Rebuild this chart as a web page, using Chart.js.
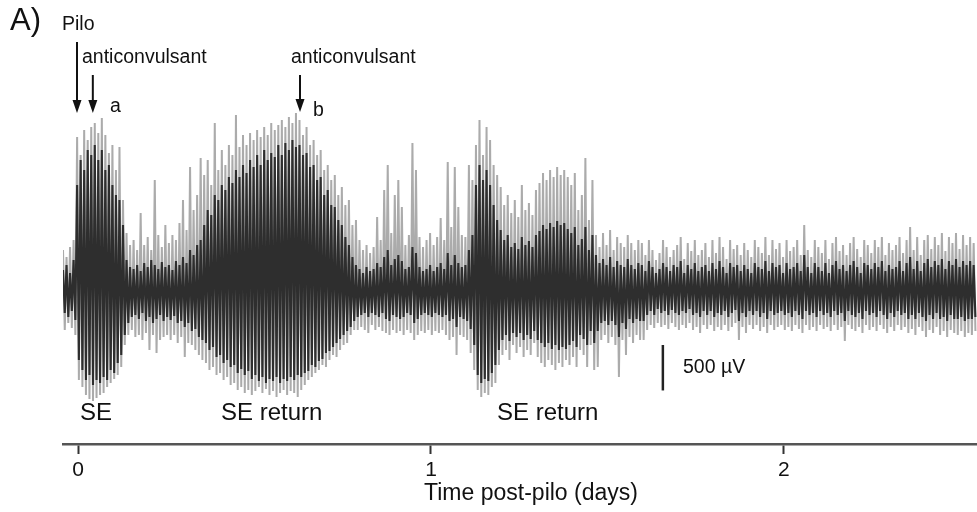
<!DOCTYPE html>
<html>
<head>
<meta charset="utf-8">
<script src="https://cdn.jsdelivr.net/npm/chart.js@4.4.1/dist/chart.umd.min.js"></script>
<style>
  html, body { margin: 0; padding: 0; background: #fff; }
  #wrap { width: 977px; height: 512px; }
</style>
</head>
<body>
<div id="wrap"><canvas id="eeg"></canvas></div>
<script>
// time base, days post-pilo (one bin every 0.01 day)
const tStart = -0.04
const tStep = 0.01

// outer (light grey) envelope of the trace, µV
const spikeTop = [
  495, 418, 528, 605,
  1738, 1540, 1815, 1705, 1848, 1892, 1782, 1947, 1760, 1562, 1650, 1375, 1628, 1045, 682, 550,
  605, 495, 902, 550, 638, 495, 1265, 660, 528, 770, 572, 660, 605, 792, 1045, 715, 1408, 935, 1100, 1507,
  1320, 1485, 1210, 1892, 1375, 1595, 1430, 1650, 1540, 1980, 1628, 1760, 1650, 1782, 1705, 1815, 1738, 1848, 1760, 1892,
  1815, 1870, 1925, 1848, 1958, 1892, 2002, 1925, 1760, 1848, 1650, 1705, 1540, 1595, 1375, 1430, 1265, 1320, 1100, 1188,
  990, 1045, 770,
  825, 605, 495, 550, 462, 528, 858, 605, 1155, 1430, 682, 1100, 1265, 968, 550, 660, 1672, 1375, 638, 528,
  605, 682, 550, 638, 847, 605, 1463, 748, 1408, 968, 660, 638, 1430,
  1265, 1650, 1925, 1540, 1848, 1705, 1430, 1320, 1188, 990, 1100, 902, 1045, 858, 1210, 935, 1012, 880, 1155, 1232,
  1342, 1265, 1375, 1298, 1408, 1320, 1375, 1298, 1210, 1342, 935, 1100, 1507, 825, 1265,
  660, 528, 682, 550, 715, 495, 638, 572, 528, 660, 572, 495, 605,
  572, 440, 605, 495, 385, 462, 605, 528, 418, 495,
  550, 638, 396, 572, 484, 605, 440, 495, 572, 418,
  605, 462, 638, 528, 396, 605, 506, 550, 440, 572,
  495, 418, 605, 528, 462, 638, 440, 605, 506, 572,
  418, 605, 484, 528, 605, 440, 770, 495, 418, 605,
  528, 462, 605, 396, 572, 638, 484, 550, 440, 572,
  638, 506, 418, 605, 550, 462, 605, 528, 638, 440,
  572, 495, 550, 638, 462, 605, 748, 495, 638, 440,
  605, 660, 506, 638, 550, 682, 484, 638, 572, 682,
  506, 660, 550, 638, 572
]
const spikeBottom = [
  385, 308, 363, 440,
  935, 1012, 1100, 1144, 1166, 1133, 1100, 1078, 1012, 968, 924, 880, 792, 550, 440, 385,
  462, 440, 495, 418, 605, 440, 638, 495, 462, 440, 495, 440, 528, 462, 682, 528, 550, 605, 660, 715,
  748, 825, 792, 880, 858, 935, 902, 990, 968, 1045, 1012, 1078, 1045, 1100, 1056, 1012, 1078, 1034, 1100, 1056,
  1122, 1078, 1045, 1100, 1056, 1078, 1122, 1045, 990, 935, 902, 858, 825, 770, 792, 715, 660, 682, 605, 550,
  528, 440, 385,
  385, 352, 385, 418, 330, 385, 352, 396, 418, 440, 385, 418, 396, 440, 385, 418, 495, 440, 396, 418,
  385, 440, 396, 418, 385, 440, 495, 462, 660, 440, 462, 495, 638,
  825, 1045, 1122, 1078, 1100, 1012, 968, 770, 660, 605, 715, 550, 638, 572, 682, 605, 660, 528, 682, 748,
  792, 715, 770, 825, 748, 792, 715, 770, 682, 792, 605, 660, 792, 550, 825,
  792, 495, 440, 528, 462, 550, 902, 495, 660, 462, 528, 440, 495,
  495, 385, 330, 363, 308, 352, 330, 374, 308, 352,
  385, 330, 363, 308, 385, 352, 418, 330, 374, 330,
  396, 352, 385, 330, 396, 352, 308, 495, 352, 418,
  330, 374, 330, 396, 352, 418, 330, 385, 352, 330,
  385, 352, 396, 330, 374, 418, 330, 385, 352, 396,
  330, 374, 352, 396, 330, 385, 352, 506, 330, 374,
  396, 352, 418, 330, 385, 352, 396, 330, 374, 418,
  352, 396, 330, 385, 352, 418, 374, 440, 352, 396,
  462, 385, 418, 352, 440, 396, 462, 385, 418, 440,
  396, 462, 418, 440, 396
]

// dark core of the trace, µV
const coreTop = [
  275, 330, 242, 385,
  1210, 1485, 1375, 1595, 1540, 1650, 1485, 1595, 1375, 1430, 1210, 1100, 1045, 770, 385, 308,
  286, 330, 264, 352, 308, 385, 330, 286, 363, 308, 330, 275, 374, 330, 418, 352, 495, 440, 550, 605,
  770, 935, 880, 1100, 1045, 1210, 1155, 1298, 1232, 1375, 1298, 1430, 1342, 1485, 1408, 1540, 1430, 1595, 1485, 1562,
  1518, 1650, 1540, 1672, 1595, 1705, 1628, 1650, 1540, 1562, 1408, 1430, 1265, 1298, 1100, 1155, 990, 968, 825, 770,
  638, 550, 418,
  330, 286, 242, 308, 264, 286, 352, 308, 418, 495, 330, 396, 440, 374, 286, 308, 528, 462, 308, 264,
  286, 330, 264, 308, 352, 286, 462, 330, 440, 352, 308, 330, 495,
  660, 1210, 1430, 1265, 1375, 1210, 990, 825, 715, 605, 660, 528, 572, 506, 638, 550, 594, 528, 660, 704,
  770, 726, 792, 748, 814, 770, 792, 726, 682, 748, 550, 616, 748, 495, 660,
  440, 352, 396, 330, 418, 308, 374, 330, 308, 396, 330, 286, 352,
  330, 264, 374, 308, 242, 286, 352, 308, 264, 330,
  308, 374, 242, 330, 286, 352, 264, 308, 330, 264,
  352, 286, 374, 308, 242, 352, 308, 330, 264, 330,
  286, 242, 352, 308, 286, 374, 264, 352, 308, 330,
  242, 352, 286, 308, 352, 264, 440, 308, 242, 352,
  308, 264, 352, 242, 330, 374, 286, 330, 264, 330,
  374, 308, 242, 352, 330, 286, 352, 308, 374, 264,
  330, 286, 308, 374, 264, 352, 418, 286, 374, 264,
  352, 396, 308, 374, 330, 396, 286, 374, 330, 396,
  308, 374, 330, 374, 330
]
const coreBottom = [
  198, 242, 176, 275,
  715, 825, 935, 880, 990, 935, 968, 902, 935, 825, 858, 748, 660, 440, 308, 242,
  220, 264, 198, 286, 242, 308, 264, 220, 286, 242, 275, 231, 308, 286, 352, 308, 396, 374, 462, 495,
  528, 605, 572, 682, 660, 748, 715, 792, 770, 858, 814, 880, 836, 924, 880, 946, 902, 968, 924, 946,
  902, 968, 924, 946, 902, 935, 880, 902, 858, 836, 770, 792, 726, 704, 638, 616, 572, 528, 484, 440,
  396, 352, 286,
  242, 220, 198, 242, 198, 220, 242, 198, 264, 286, 220, 242, 264, 242, 198, 220, 308, 264, 220, 198,
  220, 242, 198, 220, 242, 220, 286, 264, 352, 242, 264, 286, 374,
  550, 880, 968, 924, 946, 858, 770, 605, 495, 440, 506, 418, 462, 418, 495, 440, 484, 396, 495, 528,
  572, 528, 594, 550, 605, 572, 594, 550, 506, 572, 440, 484, 550, 396, 528,
  396, 308, 286, 330, 286, 330, 462, 308, 374, 264, 308, 264, 286,
  286, 220, 176, 220, 154, 198, 176, 220, 165, 198,
  220, 176, 198, 154, 220, 198, 242, 176, 220, 176,
  242, 198, 220, 176, 242, 198, 165, 286, 198, 242,
  176, 220, 176, 242, 198, 264, 176, 220, 198, 176,
  220, 198, 242, 176, 220, 264, 176, 220, 198, 242,
  176, 220, 198, 242, 176, 220, 198, 286, 176, 220,
  242, 198, 264, 176, 220, 198, 242, 176, 220, 264,
  198, 242, 176, 220, 198, 264, 220, 264, 198, 242,
  286, 220, 264, 198, 264, 242, 286, 220, 264, 264,
  242, 286, 264, 264, 242
]

const xTicks = [0, 1, 2]
const scaleBar = 500 // µV

// each bin becomes one up and one down stroke of the trace
function zigzag(top, bottom) {
  const pts = []
  top.forEach((v, i) => {
    const t = tStart + i * tStep
    pts.push({ x: t - tStep / 4, y: v })
    pts.push({ x: t + tStep / 4, y: -bottom[i] })
  })
  return pts
}

const FONT = '"Liberation Sans", Arial, sans-serif'

const notes = {
  id: 'notes',
  afterDraw(chart) {
    const ctx = chart.ctx
    const xs = chart.scales.x
    const ys = chart.scales.y
    ctx.save()
    ctx.fillStyle = '#111'
    ctx.strokeStyle = '#111'
    ctx.textBaseline = 'middle'
    ctx.textAlign = 'left'

    const text = (s, x, y, size) => {
      ctx.font = size + 'px ' + FONT
      ctx.fillText(s, x, y)
    }
    const arrow = (x, y0, y1) => {
      ctx.lineWidth = 2
      ctx.beginPath()
      ctx.moveTo(x, y0)
      ctx.lineTo(x, y1 - 10)
      ctx.stroke()
      ctx.beginPath()
      ctx.moveTo(x - 4.5, y1 - 13)
      ctx.lineTo(x + 4.5, y1 - 13)
      ctx.lineTo(x, y1)
      ctx.closePath()
      ctx.fill()
    }

    text('A)', 10, 21, 31)
    text('Pilo', 62, 25, 19.5)
    arrow(xs.getPixelForValue(0) - 1, 42, 113)
    text('anticonvulsant', 82, 58, 19.5)
    arrow(xs.getPixelForValue(0.042), 75, 113)
    text('a', 110, 107, 19.5)
    text('anticonvulsant', 291, 58, 19.5)
    arrow(xs.getPixelForValue(0.629), 75, 112)
    text('b', 313, 111, 19.5)

    text('SE', 80, 413, 24)
    text('SE return', 221, 413, 24)
    text('SE return', 497, 413, 24)

    // 500 µV scale bar
    const bx = xs.getPixelForValue(1.657)
    ctx.lineWidth = 2.5
    ctx.strokeStyle = '#222'
    ctx.beginPath()
    ctx.moveTo(bx, ys.getPixelForValue(-550))
    ctx.lineTo(bx, ys.getPixelForValue(-550 - scaleBar))
    ctx.stroke()
    text(scaleBar + ' µV', 683, 368, 19.5)

    // axis title
    ctx.textAlign = 'center'
    text('Time post-pilo (days)', 531, 494, 23)
    ctx.restore()
  }
}

new Chart(document.getElementById('eeg'), {
  type: 'line',
  data: {
    datasets: [
      {
        label: 'outer',
        data: zigzag(spikeTop, spikeBottom),
        borderColor: '#ababab',
        borderWidth: 2,
        pointRadius: 0,
        tension: 0,
        order: 2
      },
      {
        label: 'core',
        data: zigzag(coreTop, coreBottom),
        borderColor: '#2e2e2e',
        borderWidth: 2.1,
        pointRadius: 0,
        tension: 0,
        order: 1
      }
    ]
  },
  options: {
    responsive: true,
    maintainAspectRatio: false,
    animation: false,
    layout: { padding: { left: 63, right: 0, top: 40, bottom: 0 } },
    plugins: { legend: { display: false }, tooltip: { enabled: false } },
    scales: {
      x: {
        type: 'linear',
        min: -0.0425,
        max: 2.547,
        offset: false,
        afterBuildTicks: (s) => { s.ticks = xTicks.map(v => ({ value: v })) },
        afterFit: (s) => { s.height = 68 },
        grid: { drawOnChartArea: false, drawTicks: true, tickLength: 10, tickWidth: 2, tickColor: '#333' },
        border: { display: true, color: '#555', width: 2.5 },
        ticks: { color: '#111', padding: 4, font: { size: 21, family: FONT } }
      },
      y: {
        display: false,
        min: -1639,
        max: 2805
      }
    }
  },
  plugins: [notes]
})
</script>
</body>
</html>
